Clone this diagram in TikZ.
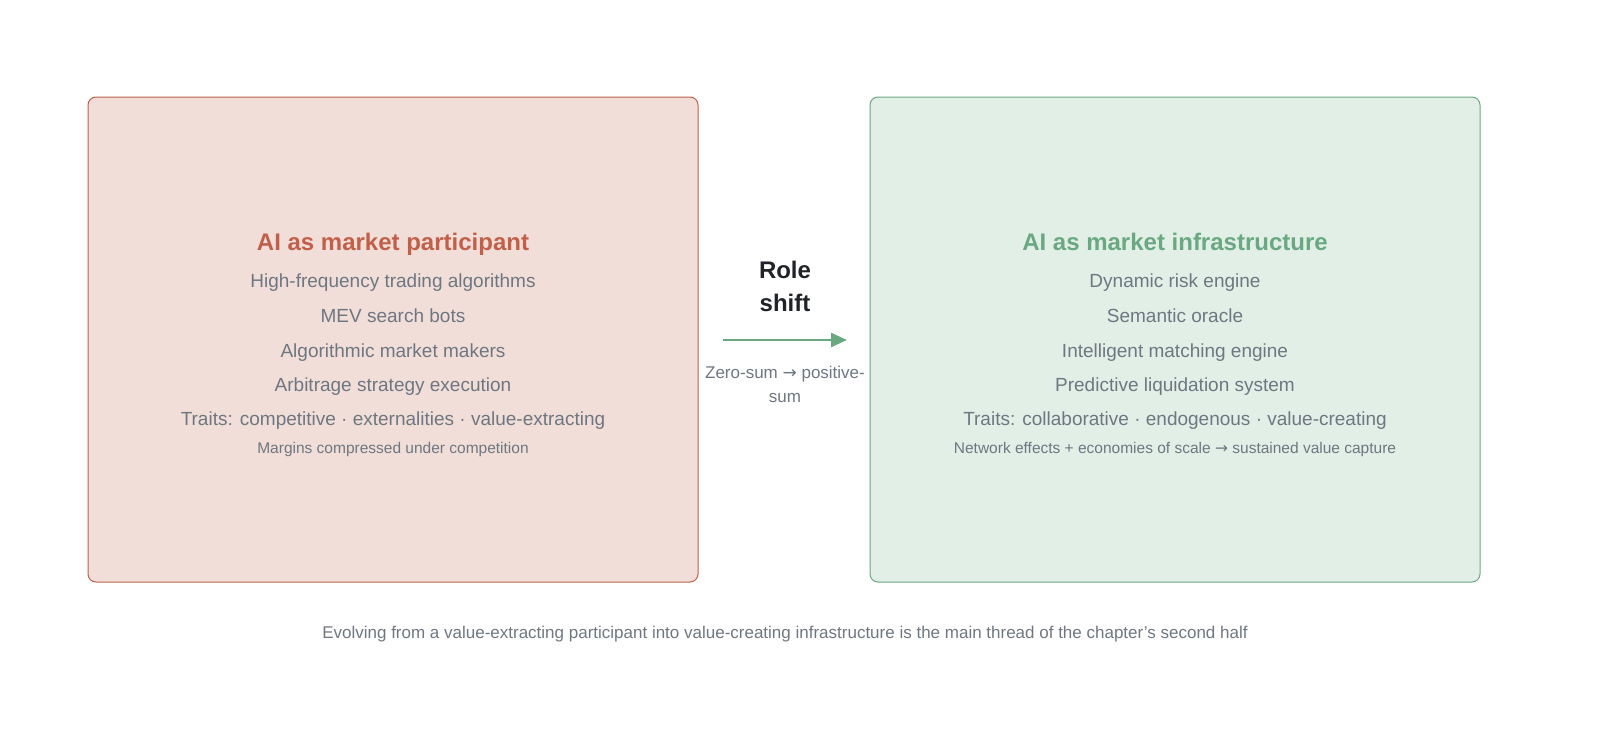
\documentclass[tikz,border=0pt]{standalone}
\usepackage{fontspec}
\setmainfont{Liberation Sans}
\newfontfamily\symfont{DejaVu Sans}
\usetikzlibrary{positioning,arrows.meta}
\definecolor{redfill}{HTML}{F2DED8}
\definecolor{redline}{HTML}{C0604A}
\definecolor{greenfill}{HTML}{E2EFE7}
\definecolor{greenline}{HTML}{6AA882}
\definecolor{greytext}{HTML}{6E7781}
\definecolor{darktext}{HTML}{1F2328}
\newcommand{\rarr}{{\symfont\char"2192}}
\tikzset{
  panel/.style={draw, rounded corners=8pt, line width=1pt},
  heading/.style={font=\fontsize{24}{28}\selectfont\bfseries},
  item/.style={text=greytext, font=\fontsize{19}{22}\selectfont, anchor=base},
  note/.style={text=greytext, font=\fontsize{15.5}{18}\selectfont, anchor=base}
}
\begin{document}
\begin{tikzpicture}[x=1pt,y=-1pt]
  % left panel
  \draw[panel, fill=redfill, draw=redline] (88,97) rectangle (698,582);
  \node[heading, text=redline, anchor=base] (lhead) at (393,250) {AI as market participant};
  \node[item] (l1) at (393,287) {High-frequency trading algorithms};
  \node[item] (l2) at (393,322) {MEV search bots};
  \node[item] (l3) at (393,357) {Algorithmic market makers};
  \node[item] (l4) at (393,391) {Arbitrage strategy execution};
  \node[item] (l5) at (393,425) {Traits: competitive · externalities · value-extracting};
  \node[note] (l6) at (393,453) {Margins compressed under competition};
  % right panel
  \draw[panel, fill=greenfill, draw=greenline] (870,97) rectangle (1480,582);
  \node[heading, text=greenline, anchor=base] (rhead) at (1175,250) {AI as market infrastructure};
  \node[item] (r1) at (1175,287) {Dynamic risk engine};
  \node[item] (r2) at (1175,322) {Semantic oracle};
  \node[item] (r3) at (1175,357) {Intelligent matching engine};
  \node[item] (r4) at (1175,391) {Predictive liquidation system};
  \node[item] (r5) at (1175,425) {Traits: collaborative · endogenous · value-creating};
  \node[note] (r6) at (1175,453) {Network effects + economies of scale \rarr\ sustained value capture};
  % middle
  \node[text=darktext, align=center, font=\fontsize{24}{33}\selectfont\bfseries] (shift) at (785,286) {Role\\shift};
  \coordinate (a1) at (723,340);
  \coordinate (a2) at (847,340);
  \draw[greenline, line width=2.5pt, -{Triangle[length=16pt,width=14pt]}] (a1) -- (a2);
  \node[text=greytext, align=center, font=\fontsize{17}{24}\selectfont] (sum) at (785,384) {Zero-sum \rarr\ positive-\\sum};
  % caption
  \node[item, font=\fontsize{17}{20}\selectfont] (cap) at (785,638) {Evolving from a value-extracting participant into value-creating infrastructure is the main thread of the chapter's second half};
  \pgfresetboundingbox
  \useasboundingbox (0,0) rectangle (1600,747);
\end{tikzpicture}
\end{document}
